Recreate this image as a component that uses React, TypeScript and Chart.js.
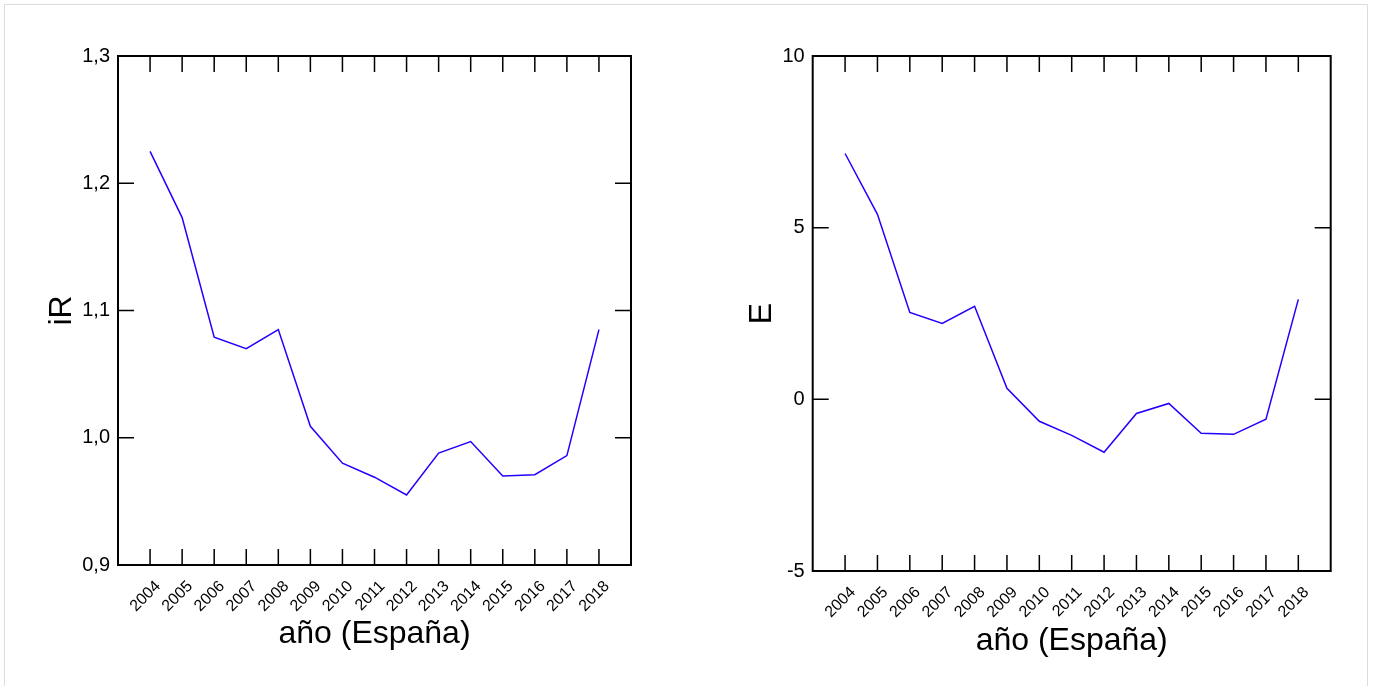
import React, { useEffect, useRef } from 'react';
import { Chart, registerables } from 'chart.js';

Chart.register(...registerables);

const YEARS = [2004, 2005, 2006, 2007, 2008, 2009, 2010, 2011, 2012, 2013, 2014, 2015, 2016, 2017, 2018];
const YEAR_LABELS = YEARS.map(String);
const IR_VALUES = [1.225, 1.173, 1.079, 1.07, 1.085, 1.009, 0.98, 0.969, 0.955, 0.988, 0.997, 0.97, 0.971, 0.986, 1.085];
const E_VALUES = [7.16, 5.39, 2.53, 2.21, 2.71, 0.32, -0.64, -1.05, -1.54, -0.41, -0.12, -0.99, -1.02, -0.58, 2.91];
const IR_TICKS = [0.9, 1.0, 1.1, 1.2, 1.3];
const E_TICKS = [-5, 0, 5, 10];
const X_TITLE = 'año (España)';
const IR_TITLE = 'iR';
const E_TITLE = 'E';

const FONT = "'Liberation Sans', Arial, Helvetica, sans-serif";
const LINE_COLOR = '#2200ff';

const framePlugin = {
  id: 'frameTicks',
  afterDatasetsDraw(chart: any) {
    const { ctx, chartArea, scales } = chart;
    const { left, right, top, bottom } = chartArea;
    const x = scales.x;
    const y = scales.y;
    ctx.save();
    ctx.strokeStyle = '#000';
    ctx.lineWidth = 1.5;
    ctx.beginPath();
    x.ticks.forEach((t: any) => {
      const px = x.getPixelForValue(t.value);
      ctx.moveTo(px, bottom);
      ctx.lineTo(px, bottom - 16);
      ctx.moveTo(px, top);
      ctx.lineTo(px, top + 16);
    });
    y.ticks.forEach((t: any) => {
      const py = y.getPixelForValue(t.value);
      ctx.moveTo(left, py);
      ctx.lineTo(left + 16, py);
      ctx.moveTo(right, py);
      ctx.lineTo(right - 16, py);
    });
    ctx.stroke();
    ctx.lineWidth = 2;
    ctx.strokeRect(left, top, right - left, bottom - top);
    ctx.restore();
  },
};

type Cfg = {
  values: number[];
  yTicks: number[];
  decimals: number;
  yTitle: string;
  padding: { left: number; right: number; top: number; bottom: number };
  yWidth: number;
  xHeight: number;
  yTitlePad: number;
};

function makeChart(canvas: HTMLCanvasElement, c: Cfg) {
  return new Chart(canvas, {
    type: 'line',
    data: {
      datasets: [
        {
          data: YEARS.map((yr, i) => ({ x: yr, y: c.values[i] })),
          borderColor: LINE_COLOR,
          borderWidth: 1.5,
          pointRadius: 0,
          tension: 0,
          fill: false,
        },
      ],
    },
    options: {
      animation: false,
      responsive: false,
      devicePixelRatio: 1,
      layout: { padding: c.padding },
      plugins: { legend: { display: false }, tooltip: { enabled: false } },
      scales: {
        x: {
          type: 'linear',
          position: 'bottom',
          min: YEARS[0] - 1,
          max: YEARS[YEARS.length - 1] + 1,
          afterBuildTicks: (s: any) => {
            s.ticks = YEARS.map((v) => ({ value: v }));
          },
          afterFit: (s: any) => {
            s.height = c.xHeight;
          },
          grid: { display: false, drawTicks: false },
          border: { display: false },
          ticks: {
            autoSkip: false,
            minRotation: 45,
            maxRotation: 45,
            labelOffset: 8,
            padding: 12,
            color: '#000',
            font: { family: FONT, size: 16 },
            callback: (v: any) => {
              const i = YEARS.indexOf(Number(v));
              return i >= 0 ? YEAR_LABELS[i] : '';
            },
          },
          title: {
            display: true,
            text: X_TITLE,
            color: '#000',
            font: { family: FONT, size: 32 },
            padding: { top: 0, bottom: 0.6 },
          },
        },
        y: {
          type: 'linear',
          position: 'left',
          min: c.yTicks[0],
          max: c.yTicks[c.yTicks.length - 1],
          afterBuildTicks: (s: any) => {
            s.ticks = c.yTicks.map((v) => ({ value: v }));
          },
          afterFit: (s: any) => {
            s.width = c.yWidth;
          },
          grid: { display: false, drawTicks: false },
          border: { display: false },
          ticks: {
            padding: 8,
            color: '#000',
            font: { family: FONT, size: 20 },
            callback: (v: any) => Number(v).toFixed(c.decimals).replace('.', ','),
          },
          title: {
            display: true,
            text: c.yTitle,
            color: '#000',
            font: { family: FONT, size: 32 },
            padding: { top: c.yTitlePad, bottom: 0 },
          },
        },
      },
    },
    plugins: [framePlugin],
  } as any);
}

function Panel(props: { left: number; width: number; cfg: Cfg }) {
  const ref = useRef<HTMLCanvasElement>(null);
  useEffect(() => {
    if (!ref.current) return;
    const ch = makeChart(ref.current, props.cfg);
    return () => ch.destroy();
  }, []);
  return (
    <canvas
      ref={ref}
      width={props.width}
      height={686}
      style={{ position: 'absolute', left: props.left, top: 0, width: props.width, height: 686 }}
    />
  );
}

export default function App() {
  return (
    <div style={{ position: 'absolute', left: 0, top: 0, width: 1374, height: 686, overflow: 'hidden', background: '#fff' }}>
      <div
        style={{
          position: 'absolute',
          left: 4,
          top: 4,
          width: 1364,
          height: 720,
          border: '1px solid #dcdcdc',
          boxSizing: 'border-box',
        }}
      />
      <Panel
        left={0}
        width={690}
        cfg={{
          values: IR_VALUES,
          yTicks: IR_TICKS,
          decimals: 1,
          yTitle: IR_TITLE,
          padding: { left: 40, right: 59, top: 56, bottom: 31.6 },
          yWidth: 78,
          xHeight: 89.4,
          yTitlePad: 3.3,
        }}
      />
      <Panel
        left={690}
        width={684}
        cfg={{
          values: E_VALUES,
          yTicks: E_TICKS,
          decimals: 0,
          yTitle: E_TITLE,
          padding: { left: 50, right: 43.3, top: 56, bottom: 24.6 },
          yWidth: 72.7,
          xHeight: 90.4,
          yTitlePad: 3.3,
        }}
      />
    </div>
  );
}
